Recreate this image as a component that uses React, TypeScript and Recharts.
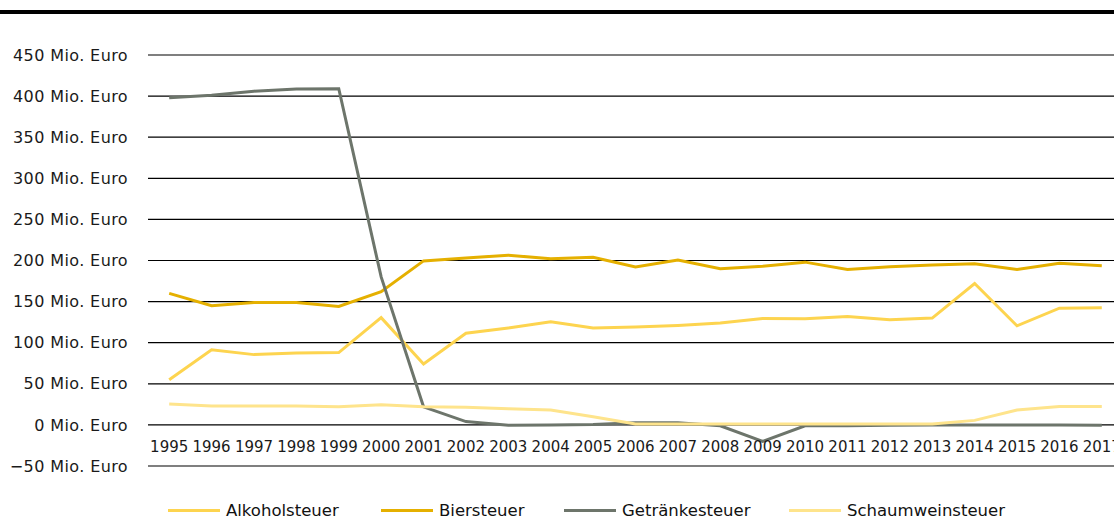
import { LineChart, Line, XAxis, YAxis, CartesianGrid, Legend } from 'recharts';

// Steuereinnahmen in Mio. Euro
const years = [
  '1995', '1996', '1997', '1998', '1999', '2000', '2001', '2002', '2003', '2004', '2005', '2006',
  '2007', '2008', '2009', '2010', '2011', '2012', '2013', '2014', '2015', '2016', '2017',
];

const alkohol = [55, 91.5, 85.5, 87.5, 88, 130.5, 74, 111.5, 118, 125.5, 118, 119, 121, 124, 129.5, 129, 132, 128, 130, 172, 120.5, 142, 142.5];
const bier = [160, 145, 149, 149, 144, 162, 199.5, 203, 206.5, 202, 204, 192, 200.5, 190, 193, 198, 189, 192.5, 194.5, 196, 189, 196.5, 193.5];
const getraenke = [398, 401, 406, 408.5, 409, 180, 22, 4, -0.5, 0, 0.5, 2.5, 2.5, -1, -20, -1, -1, -0.5, 0, 0, 0, 0, -0.5];
const schaumwein = [25.5, 23, 23, 23, 22, 24.5, 22, 21.5, 19.5, 18, 10, 1, 1, 1, 1, 1, 1, 1, 1, 5.5, 18, 22.5, 22.5];

const yTicks = [-50, 0, 50, 100, 150, 200, 250, 300, 350, 400, 450];

const series = [
  { key: 'alkohol', name: 'Alkoholsteuer', color: '#fdd44f' },
  { key: 'bier', name: 'Biersteuer', color: '#e5b000' },
  { key: 'getraenke', name: 'Getränkesteuer', color: '#6d756b' },
  { key: 'schaumwein', name: 'Schaumweinsteuer', color: '#fee48c' },
];

const data = years.map((year, i) => ({
  year,
  alkohol: alkohol[i],
  bier: bier[i],
  getraenke: getraenke[i],
  schaumwein: schaumwein[i],
}));

const FONT = '"DejaVu Sans", Verdana, sans-serif';
const legendLeft = [168, 381, 564, 789];

const formatY = (v: number) => (v < 0 ? `\u2212${Math.abs(v)} Mio. Euro` : `${v} Mio. Euro`);

function YearTick(props: any) {
  const { x, y, payload } = props;
  return (
    <text x={x} y={y - 14} textAnchor="middle" fill="#1a1a1a" fontSize={15} fontFamily={FONT}>
      {payload.value}
    </text>
  );
}

function LegendContent() {
  return (
    <div style={{ position: 'relative', height: 24, fontFamily: FONT, fontSize: 16.5, color: '#111' }}>
      {series.map((s, i) => (
        <div
          key={s.key}
          style={{ position: 'absolute', left: legendLeft[i], top: 0, height: 24, display: 'flex', alignItems: 'center', whiteSpace: 'nowrap' }}
        >
          <span style={{ display: 'inline-block', width: 52, height: 3, background: s.color, marginRight: 6 }} />
          <span>{s.name}</span>
        </div>
      ))}
    </div>
  );
}

export default function App() {
  return (
    <div style={{ position: 'absolute', left: 0, top: 0, width: 1114, height: 518, overflow: 'hidden', background: '#fff', fontFamily: FONT }}>
      <div style={{ position: 'absolute', left: 0, top: 10, width: 1114, height: 4, background: '#000' }} />
      <LineChart width={1123} height={518} data={data} margin={{ top: 55, right: 0, bottom: 32, left: 0 }}>
        <CartesianGrid vertical={false} stroke="#000" strokeWidth={1.2} />
        <XAxis
          dataKey="year"
          height={20}
          interval={0}
          axisLine={false}
          tickLine={false}
          tickSize={0}
          tickMargin={0}
          padding={{ left: 21.2, right: 21.2 }}
          tick={<YearTick />}
        />
        <YAxis
          width={148}
          domain={[-50, 450]}
          ticks={yTicks}
          axisLine={false}
          tickLine={false}
          tickSize={0}
          tickMargin={20}
          tickFormatter={formatY}
          tick={{ fill: '#1a1a1a', fontSize: 16, fontFamily: FONT, letterSpacing: 0.4 }}
        />
        <Legend
          layout="vertical"
          align="center"
          verticalAlign="middle"
          wrapperStyle={{ position: 'absolute', left: 0, top: 498, width: 1114, height: 24 }}
          content={() => <LegendContent />}
        />
        {series.map((s) => (
          <Line
            key={s.key}
            type="linear"
            dataKey={s.key}
            name={s.name}
            stroke={s.color}
            strokeWidth={3}
            dot={false}
            activeDot={false}
            isAnimationActive={false}
          />
        ))}
      </LineChart>
    </div>
  );
}
